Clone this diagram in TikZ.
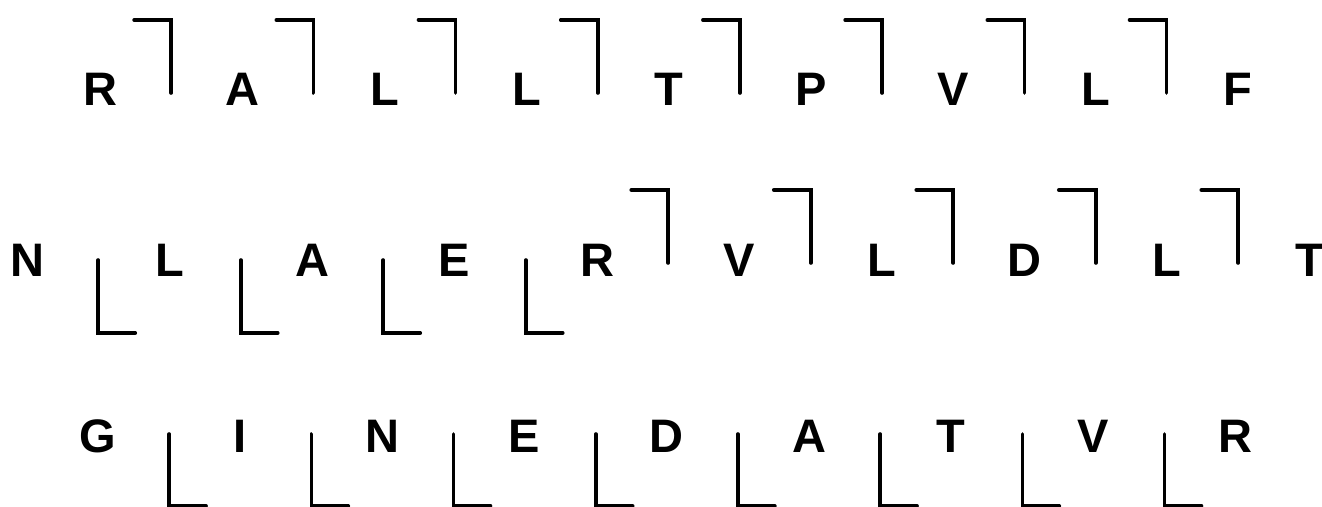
\documentclass[tikz,border=0pt]{standalone}
\usepackage{fontspec}
\setmainfont{Liberation Sans}
\begin{document}
\begin{tikzpicture}[x=1pt,y=-1pt,
  letter/.style={anchor=base, inner sep=0pt, font=\fontsize{47}{47}\selectfont\bfseries},
  brk/.style={line width=3.6pt, line cap=round, line join=miter}]
\useasboundingbox (0,0) rectangle (1322,506);
% Row 1
\foreach \t [count=\i from 0] in {R,A,L,L,T,P,V,L,F}
  \node[letter] (ra\i) at ({100+142.2*\i},105) {\t};
\foreach \i in {0,...,7}
  \draw[brk] ({100+142.2*\i+71.1-37},20) -- ({100+142.2*\i+71.1},20) -- ({100+142.2*\i+71.1},93);
% Row 2
\foreach \t [count=\i from 0] in {N,L,A,E,R,V,L,D,L,T}
  \node[letter] (rb\i) at ({27+142.5*\i},276) {\t};
\foreach \i in {0,...,3}
  \draw[brk] ({27+142.5*\i+71.25},260) -- ({27+142.5*\i+71.25},333) -- ({27+142.5*\i+71.25+37},333);
\foreach \i in {4,...,8}
  \draw[brk] ({27+142.5*\i+71.25-37},190) -- ({27+142.5*\i+71.25},190) -- ({27+142.5*\i+71.25},263);
% Row 3
\foreach \t [count=\i from 0] in {G,I,N,E,D,A,T,V,R}
  \node[letter] (rc\i) at ({98+142.2*\i},452) {\t};
\foreach \i in {0,...,7}
  \draw[brk] ({98+142.2*\i+71.1},434) -- ({98+142.2*\i+71.1},506) -- ({98+142.2*\i+71.1+37},506);
\end{tikzpicture}
\end{document}
